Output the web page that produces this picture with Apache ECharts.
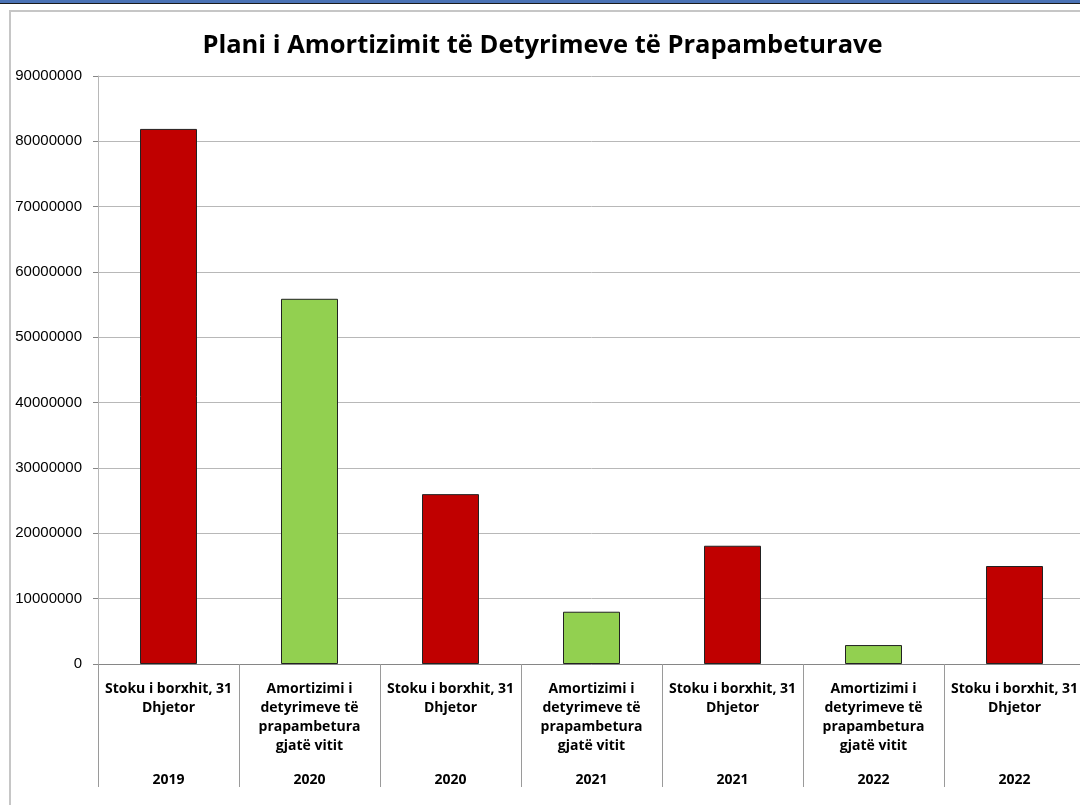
<!DOCTYPE html>
<html>
<head>
<meta charset="utf-8">
<script src="https://cdn.jsdelivr.net/npm/echarts@6/dist/echarts.min.js"></script>
<style>
  html, body { margin: 0; padding: 0; background: #fff; overflow: hidden; }
  #chart { width: 1085px; height: 805px; }
</style>
</head>
<body>
<div id="chart"></div>
<script>
// data
var categories = [
  'Stoku i borxhit, 31\nDhjetor',
  'Amortizimi i\ndetyrimeve të\nprapambetura\ngjatë vitit',
  'Stoku i borxhit, 31\nDhjetor',
  'Amortizimi i\ndetyrimeve të\nprapambetura\ngjatë vitit',
  'Stoku i borxhit, 31\nDhjetor',
  'Amortizimi i\ndetyrimeve të\nprapambetura\ngjatë vitit',
  'Stoku i borxhit, 31\nDhjetor'
];
var years = ['2019', '2020', '2020', '2021', '2021', '2022', '2022'];
var values = [81900000, 55900000, 26000000, 8000000, 18100000, 2900000, 15000000];
var kinds = ['stock', 'amort', 'stock', 'amort', 'stock', 'amort', 'stock'];

var colors = { stock: '#C00000', amort: '#92D050' };

var chart = echarts.init(document.getElementById('chart'));

var option = {
  animation: false,
  title: {
    text: 'Plani i Amortizimit të Detyrimeve të Prapambeturave',
    left: 'center',
    top: 28,
    textStyle: { fontFamily: 'Open Sans', fontWeight: 'bold', fontSize: 25.5, color: '#000' }
  },
  graphic: [
    { type: 'rect', shape: { x: 0, y: 0, width: 1085, height: 3 }, style: { fill: '#4a72b5' } },
    { type: 'rect', shape: { x: 0, y: 3, width: 1085, height: 1 }, style: { fill: '#1a1a1a' } },
    { type: 'rect', shape: { x: 10, y: 11, width: 1100, height: 820 }, style: { fill: 'none', stroke: '#c6c6c6', lineWidth: 2 } }
  ],
  grid: { left: 98, top: 76, right: 0, bottom: 141 },
  xAxis: [{
    type: 'category',
    data: categories,
    axisLine: { lineStyle: { color: '#868686' } },
    axisTick: { show: true, length: 123, alignWithLabel: false, lineStyle: { color: '#9a9a9a' } },
    axisLabel: {
      interval: 0, margin: 16,
      fontFamily: 'Open Sans', fontWeight: 'bold', fontSize: 14, lineHeight: 19, color: '#000'
    }
  }, {
    type: 'category',
    position: 'bottom',
    data: years,
    offset: 103,
    axisLine: { show: false },
    axisTick: { show: false },
    axisLabel: {
      interval: 0, margin: 6,
      fontFamily: 'Open Sans', fontWeight: 'bold', fontSize: 14, color: '#000'
    }
  }],
  yAxis: {
    type: 'value',
    min: 0, max: 90000000, interval: 10000000,
    axisLine: { show: true, lineStyle: { color: '#b8b8b8' } },
    axisTick: { show: true, length: 5, lineStyle: { color: '#868686' } },
    splitLine: { lineStyle: { color: '#b8b8b8' } },
    axisLabel: {
      margin: 16, fontFamily: 'Liberation Sans', fontSize: 15, color: '#000',
      formatter: function (v) { return String(v); }
    }
  },
  series: [{
    type: 'bar',
    xAxisIndex: 0,
    barWidth: 57,
    data: values.map(function (v, i) {
      return { value: v, itemStyle: { color: colors[kinds[i]] } };
    }),
    itemStyle: { borderColor: '#222', borderWidth: 1 }
  }]
};

chart.setOption(option);
</script>
</body>
</html>
